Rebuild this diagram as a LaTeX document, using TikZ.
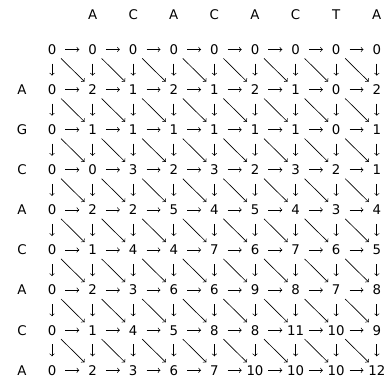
\documentclass[tikz,border=0pt]{standalone}
\usepackage{fontspec}
\setmainfont{DejaVu Sans}
\usepackage{tikz}
\tikzset{
    celula/.style={inner sep=0pt, text height=7.3pt, text depth=0pt},
    seta/.style={->, line width=0.5pt, shorten <=10pt, shorten >=10pt},
    setabaixo/.style={->, line width=0.5pt, shorten <=10.5pt, shorten >=10.5pt},
    setadiag/.style={->, line width=0.5pt, shorten <=9.5pt, shorten >=8.5pt}
}

\begin{document}
\begin{tikzpicture}[x=0.75pt, y=-0.75pt]
    \useasboundingbox (0,0) rectangle (387,380);
    % sequencias
    \foreach \l [count=\j] in {A,C,A,C,A,C,T,A}
        \node[celula] (col\j) at (52+40.6*\j,15) {\l};
    \foreach \l [count=\i] in {A,G,C,A,C,A,C,A}
        \node[celula] (lin\i) at (22,49.5+40.1*\i) {\l};
    % matriz de pontuacao
    \foreach \vals [count=\i from 0] in {{0,0,0,0,0,0,0,0,0},{0,2,1,2,1,2,1,0,2},
        {0,1,1,1,1,1,1,0,1},{0,0,3,2,3,2,3,2,1},{0,2,2,5,4,5,4,3,4},
        {0,1,4,4,7,6,7,6,5},{0,2,3,6,6,9,8,7,8},{0,1,4,5,8,8,11,10,9},
        {0,2,3,6,7,10,10,10,12}}
        \foreach \v [count=\j from 0] in \vals
            \node[celula] (n-\i-\j) at (52+40.6*\j,49.5+40.1*\i) {\v};
    % setas
    \foreach \i in {0,...,8}
        \foreach \j [count=\k] in {0,...,7}
            \draw[seta] (n-\i-\j.center) -- (n-\i-\k.center);
    \foreach \i [count=\m] in {0,...,7}
        \foreach \j in {0,...,8}
            \draw[setabaixo] (n-\i-\j.center) -- (n-\m-\j.center);
    \foreach \i [count=\m] in {0,...,7}
        \foreach \j [count=\k] in {0,...,7}
            \draw[setadiag] (n-\i-\j.center) -- (n-\m-\k.center);
\end{tikzpicture}
\end{document}
